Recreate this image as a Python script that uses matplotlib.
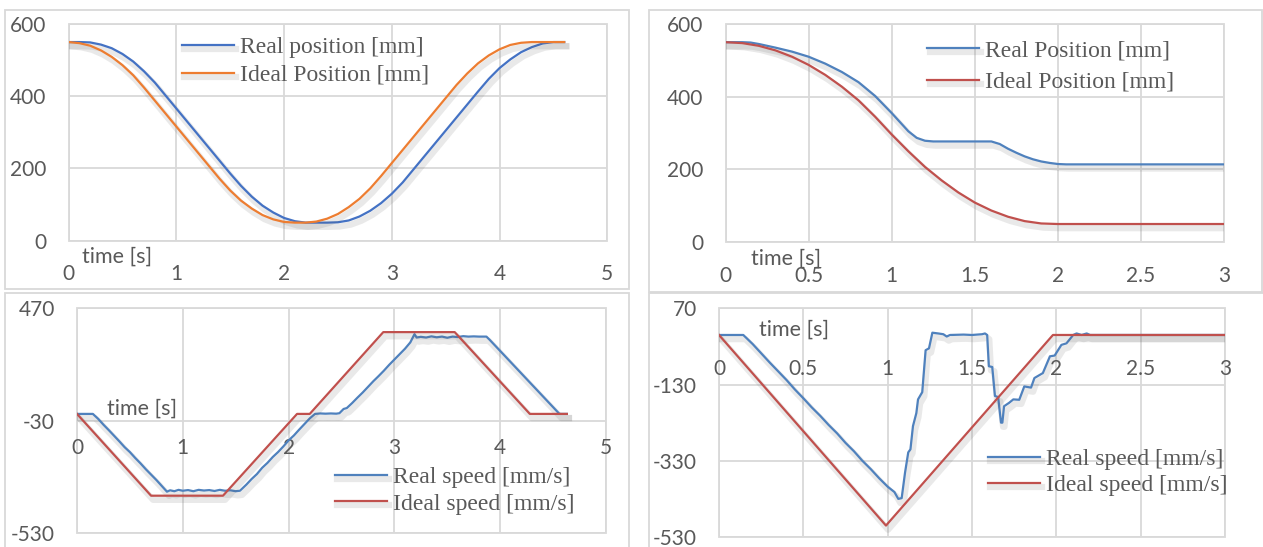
import numpy as np
import matplotlib
matplotlib.use("Agg")
import matplotlib.pyplot as plt
from matplotlib import patheffects as pe
from matplotlib.patches import Rectangle
from matplotlib.ticker import FormatStrFormatter

plt.rcParams["axes.unicode_minus"] = False

# ---- top-left: position, full back-and-forth move ----
time_1 = np.round(np.arange(0, 4.65, 0.1), 2)
real_pos_1 = [550, 550, 549, 543, 533, 517, 496, 469, 438, 402, 366, 330, 294, 258, 222, 186,
              152, 122, 97, 78, 63, 54, 50, 50, 50, 51, 56, 67, 83, 104, 130, 161, 197, 233,
              269, 305, 341, 377, 413, 448, 478, 502, 522, 536, 546, 550, 550]
ideal_pos_1 = [550, 547, 540, 527, 509, 486, 458, 424, 388, 352, 316, 280, 244, 208, 172, 139,
               111, 89, 71, 59, 52, 50, 50, 53, 61, 74, 93, 116, 145, 179, 215, 251, 287, 323,
               359, 395, 431, 463, 491, 513, 530, 542, 548, 550, 550, 550, 550]

# ---- top-right: position, interrupted move ----
time_2_real = [0, 0.1, 0.15, 0.2, 0.3, 0.4, 0.5, 0.6, 0.7, 0.8, 0.9, 1.0, 1.05, 1.1, 1.15, 1.2,
               1.25, 1.6, 1.65, 1.7, 1.75, 1.8, 1.85, 1.9, 1.95, 2.0, 2.05, 3.0]
real_pos_2 = [550, 550, 549, 545, 535, 524, 510, 491, 468, 440, 402, 355, 330, 305, 287, 279,
              277, 277, 270, 257, 246, 236, 228, 222, 218, 215, 214, 214]
time_2_ideal = [0, 0.1, 0.2, 0.3, 0.4, 0.5, 0.6, 0.7, 0.8, 0.9, 1.0, 1.1, 1.2, 1.3, 1.4, 1.5,
                1.6, 1.7, 1.8, 1.9, 2.0, 3.0]
ideal_pos_2 = [550, 547.5, 540, 527.5, 510, 487.5, 460, 427.5, 390, 345, 296, 250, 207, 170,
               137, 109, 87, 70, 58, 51.5, 50, 50]

# ---- bottom-left: speed, full move ----
time_3_ideal = [0, 0.70, 1.38, 2.08, 2.20, 2.895, 3.57, 4.28, 4.63]
ideal_speed_3 = [0, -364, -364, 0, 0, 364, 364, 0, 0]
time_3_real = [0, 0.15, 0.2, 0.25, 0.3, 0.35, 0.4, 0.45, 0.5, 0.55, 0.6, 0.65, 0.7, 0.75, 0.8,
               0.85, 0.88, 0.92, 0.96, 1.0, 1.05, 1.1, 1.15, 1.2, 1.25, 1.3, 1.35, 1.4, 1.45,
               1.5, 1.54, 1.6, 1.65, 1.7, 1.75, 1.8, 1.85, 1.9, 1.95, 2.0, 2.05, 2.1, 2.15,
               2.2, 2.25, 2.3, 2.35, 2.4, 2.45, 2.48, 2.52, 2.55, 2.6, 2.65, 2.7, 2.75, 2.8,
               2.85, 2.9, 2.95, 3.0, 3.05, 3.1, 3.15, 3.19, 3.21, 3.25, 3.3, 3.35, 3.4, 3.45,
               3.5, 3.55, 3.6, 3.65, 3.7, 3.75, 3.8, 3.87, 3.9, 3.95, 4.0, 4.05, 4.1, 4.15,
               4.2, 4.25, 4.3, 4.35, 4.4, 4.45, 4.5, 4.56, 4.63]
real_speed_3 = [0, 0, -22, -48, -72, -97, -122, -148, -170, -196, -220, -246, -270, -294, -320,
                -346, -340, -344, -338, -342, -339, -344, -338, -341, -339, -343, -338, -342,
                -340, -344, -342, -315, -290, -268, -240, -218, -192, -170, -145, -118, -96,
                -70, -45, -20, 0, 2, 1, 2, 1, 3, 22, 26, 48, 72, 95, 120, 145, 168, 192, 218,
                242, 266, 290, 318, 355, 340, 343, 340, 345, 341, 344, 339, 344, 342, 346, 344,
                345, 344, 344, 330, 305, 280, 255, 230, 205, 180, 155, 130, 105, 80, 55, 30,
                0, 0]

# ---- bottom-right: speed, interrupted move ----
time_4_ideal = [0, 0.99, 1.98, 3.0]
ideal_speed_4 = [0, -500, 0, 0]
time_4_real = [0, 0.144, 0.2, 0.25, 0.3, 0.35, 0.4, 0.45, 0.5, 0.55, 0.6, 0.65, 0.7, 0.75,
               0.8, 0.85, 0.9, 0.95, 1.0, 1.04, 1.063, 1.083, 1.103, 1.122, 1.135, 1.15, 1.17,
               1.18, 1.205, 1.225, 1.245, 1.265, 1.3, 1.33, 1.35, 1.37, 1.45, 1.5, 1.56,
               1.577, 1.59, 1.6, 1.62, 1.636, 1.655, 1.672, 1.68, 1.69, 1.72, 1.745, 1.78,
               1.81, 1.85, 1.87, 1.92, 1.962, 1.99, 2.03, 2.06, 2.1, 2.12, 2.15, 2.18, 2.2,
               3.0]
real_speed_4 = [0, 0, -24, -48, -72, -95, -118, -143, -166, -190, -212, -236, -258, -283,
                -305, -330, -352, -376, -398, -412, -430, -428, -361, -308, -300, -239, -205,
                -169, -150, -40, -35, 6, 4, 2, -4, 0, 1, 0, 2, 4, 0, -82, -84, -160, -163,
                -230, -230, -187, -178, -169, -170, -135, -138, -113, -100, -56, -54, -26, -22,
                0, 4, 0, 4, 0, 0]

W, H = 1263, 547
GRID = "#d9d9d9"
TXT = "#595959"
BLUE_A = "#4472C4"
ORANGE = "#ED7D31"
BLUE_B = "#4F81BD"
RED = "#C0504D"
TICK_FONT = "Lato"
LEG_FONT = "Liberation Serif"

fig = plt.figure(figsize=(W / 100, H / 100), dpi=100)

# chart area borders (Excel style)
for x0, y0, x1, y1 in [(5, 10, 629, 289), (649, 10, 1262, 292),
                       (5, 293, 629, 560), (649, 293, 1280, 560)]:
    fig.add_artist(Rectangle((x0 / W, 1 - y1 / H), (x1 - x0) / W, (y1 - y0) / H,
                             transform=fig.transFigure, fill=False, ec=GRID, lw=1.3))


def px_axes(x0, y0, x1, y1):
    return fig.add_axes([x0 / W, 1 - y1 / H, (x1 - x0) / W, (y1 - y0) / H])


def style(ax, xlim, xticks, ylim, yticks):
    ax.set_xlim(xlim)
    ax.set_ylim(ylim)
    ax.set_xticks(xticks)
    ax.set_yticks(yticks)
    ax.xaxis.set_major_formatter(FormatStrFormatter("%g"))
    ax.spines["bottom"].set_position(("data", 0))
    for s in ax.spines.values():
        s.set_visible(False)
    ax.patch.set_edgecolor(GRID)
    ax.patch.set_linewidth(1.3)
    ax.grid(True, color=GRID, lw=1.3)
    ax.set_axisbelow(True)
    ax.tick_params(length=0, labelsize=15, labelcolor=TXT)
    ax.tick_params(axis="x", pad=17)
    ax.tick_params(axis="y", pad=16)
    for lab in ax.get_xticklabels() + ax.get_yticklabels():
        lab.set_fontfamily(TICK_FONT)


shadow = [pe.SimpleLineShadow(offset=(1.5, -3), shadow_color="0.35", alpha=0.13, linewidth=4.5),
          pe.Normal()]


def legend(ax, anchor, spacing):
    ax.legend(loc="upper left", bbox_to_anchor=anchor, frameon=False, borderpad=0,
              borderaxespad=0, handlelength=2.2, handletextpad=0.25, labelspacing=spacing,
              prop={"family": LEG_FONT, "size": 17}, labelcolor=TXT)


def time_label(px, py):
    fig.text(px / W, 1 - py / H, "time [s]", family=TICK_FONT, size=15.5, color=TXT,
             ha="left", va="center")


# top-left
ax1 = px_axes(68.6, 24, 607.3, 240.7)
ax1.plot(time_1, real_pos_1, color=BLUE_A, lw=1.6, label="Real position [mm]", path_effects=shadow)
ax1.plot(time_1, ideal_pos_1, color=ORANGE, lw=1.6, label="Ideal Position [mm]", path_effects=shadow)
style(ax1, (0, 5), range(0, 6), (0, 600), [0, 200, 400, 600])
legend(ax1, (0.21, 0.942), 0.27)
time_label(82, 256.7)

# top-right
ax2 = px_axes(725.6, 24, 1224, 242.2)
ax2.plot(time_2_real, real_pos_2, color=BLUE_B, lw=1.6, label="Real Position [mm]", path_effects=shadow)
ax2.plot(time_2_ideal, ideal_pos_2, color=RED, lw=1.6, label="Ideal Position [mm]", path_effects=shadow)
style(ax2, (0, 3), [0, 0.5, 1, 1.5, 2, 2.5, 3], (0, 600), [0, 200, 400, 600])
legend(ax2, (0.405, 0.928), 0.43)
time_label(751, 258.3)

# bottom-left
ax3 = px_axes(77, 308.3, 606, 533)
ax3.plot(time_3_real, real_speed_3, color=BLUE_B, lw=1.6, label="Real speed [mm/s]", path_effects=shadow)
ax3.plot(time_3_ideal, ideal_speed_3, color=RED, lw=1.6, label="Ideal speed [mm/s]", path_effects=shadow)
style(ax3, (0, 5), range(0, 6), (-530, 470), [-530, -30, 470])
legend(ax3, (0.488, 0.296), 0.21)
time_label(107, 408.3)

# bottom-right
ax4 = px_axes(719, 308.3, 1225, 537)
ax4.plot(time_4_real, real_speed_4, color=BLUE_B, lw=1.6, label="Real speed [mm/s]", path_effects=shadow)
ax4.plot(time_4_ideal, ideal_speed_4, color=RED, lw=1.6, label="Ideal speed [mm/s]", path_effects=shadow)
style(ax4, (0, 3), [0, 0.5, 1, 1.5, 2, 2.5, 3], (-530, 70), [-530, -330, -130, 70])
legend(ax4, (0.532, 0.388), 0.21)
time_label(759, 330)

fig.savefig("out.png", dpi=100)
